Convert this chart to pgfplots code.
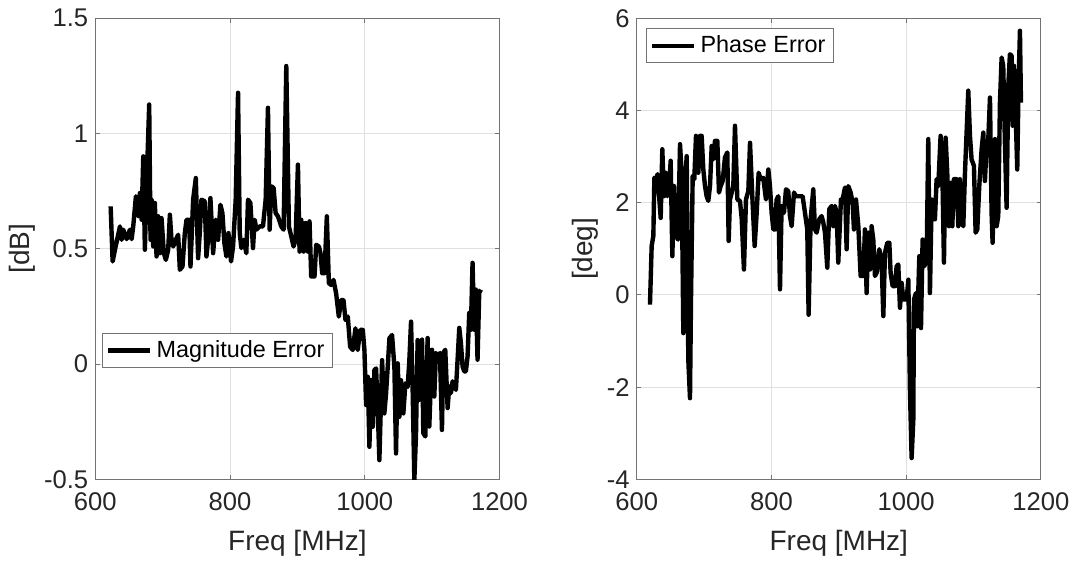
\documentclass[border=0pt]{standalone}
\usepackage{fontspec}
\setmainfont{Liberation Sans}
\usepackage{pgfplots}
\pgfplotsset{compat=1.18}
\usepackage{pgfplotstable}
\definecolor{axgray}{rgb}{0.45,0.45,0.45}
\definecolor{txt}{rgb}{0.15,0.15,0.15}
\definecolor{gridc}{rgb}{0.88,0.88,0.88}

\pgfplotstableread{
f v
622.8 0.684
625.7 0.445
629.2 0.496
636.6 0.597
639.1 0.539
641.5 0.583
646.5 0.542
651.4 0.583
653.9 0.542
656.3 0.597
660.3 0.728
663.8 0.641
666.2 0.742
668.7 0.626
671.2 0.901
673.6 0.496
676.1 0.771
680.0 1.126
682.0 0.539
683.5 0.713
686.0 0.510
688.4 0.699
690.9 0.467
693.4 0.641
695.9 0.481
698.3 0.633
701.8 0.481
704.7 0.452
708.2 0.496
710.7 0.648
713.1 0.539
715.6 0.510
719.5 0.539
723.0 0.561
725.5 0.409
729.4 0.423
732.9 0.568
735.4 0.626
739.3 0.626
741.3 0.423
745.2 0.713
749.2 0.807
752.6 0.459
755.1 0.568
757.6 0.713
762.5 0.706
765.0 0.467
767.4 0.539
770.9 0.720
774.9 0.481
778.8 0.626
782.3 0.539
785.7 0.691
788.7 0.655
791.6 0.525
794.6 0.467
797.6 0.568
801.5 0.445
804.5 0.510
808.4 0.713
811.9 1.177
814.4 0.568
816.8 0.503
820.3 0.539
824.2 0.481
826.7 0.713
830.2 0.699
834.1 0.503
836.6 0.626
839.1 0.583
844.0 0.597
848.9 0.597
852.9 0.713
856.3 1.112
858.8 0.583
861.3 0.771
864.7 0.764
867.7 0.655
871.1 0.641
876.1 0.597
879.5 0.583
883.5 1.293
887.4 0.597
890.9 0.554
894.3 0.510
897.3 0.539
900.8 0.865
903.2 0.488
905.7 0.626
909.2 0.488
912.1 0.612
915.6 0.488
918.0 0.619
920.5 0.380
925.4 0.380
927.9 0.517
931.9 0.510
934.3 0.481
936.8 0.394
940.3 0.394
943.7 0.641
946.7 0.351
950.1 0.343
953.6 0.365
957.5 0.307
961.5 0.206
965.0 0.278
968.4 0.278
971.4 0.191
974.8 0.206
978.3 0.075
982.2 0.061
986.2 0.155
989.6 0.061
993.1 0.148
997.1 0.148
999.5 0.061
1002.0 -0.178
1004.5 -0.055
1006.9 -0.359
1009.4 -0.070
1011.9 -0.272
1014.3 -0.026
1016.8 -0.019
1019.3 -0.200
1021.7 -0.417
1025.7 0.017
1029.1 -0.214
1031.6 -0.128
1034.1 -0.012
1036.6 0.112
1040.5 0.126
1044.0 -0.012
1046.4 -0.388
1048.9 0.003
1051.4 -0.229
1053.8 -0.070
1057.3 -0.214
1060.3 -0.084
1063.7 -0.099
1066.2 0.017
1068.7 0.184
1071.1 -0.113
1073.6 -0.504
1076.1 -0.301
1078.5 0.104
1081.0 -0.155
1085.0 0.106
1086.9 -0.300
1089.9 -0.314
1093.3 0.113
1095.8 -0.271
1099.8 0.062
1103.2 -0.141
1105.7 0.048
1108.2 0.033
1111.6 0.048
1114.6 -0.286
1116.6 0.048
1119.5 0.062
1123.0 -0.191
1125.4 -0.097
1127.9 -0.126
1130.4 -0.075
1135.3 -0.112
1137.8 0.019
1140.3 0.157
1142.7 0.091
1145.2 -0.010
1147.7 -0.032
1150.1 -0.032
1152.6 0.033
1155.1 0.222
1157.5 0.149
1160.0 0.439
1162.5 0.149
1164.9 0.323
1167.4 0.019
1169.9 0.309
1172.4 0.323
}\magtable

\pgfplotstableread{
f v
619.7 -0.21
622.2 1.06
624.7 1.28
626.2 2.54
628.6 2.51
631.1 2.62
633.6 2.07
635.6 1.67
638.0 3.16
640.5 2.14
643.0 2.65
645.5 2.14
647.9 2.29
650.4 2.91
652.9 0.84
655.4 2.36
658.3 1.28
661.3 1.20
664.3 3.27
666.7 2.65
669.2 -0.83
671.7 2.36
674.2 3.01
676.6 -1.41
679.1 -2.24
680.6 -0.10
683.1 2.58
685.5 2.51
688.0 3.45
691.5 2.65
694.0 3.45
696.4 3.45
698.9 2.72
701.4 2.36
703.8 2.14
706.3 2.04
708.8 2.36
711.3 3.23
713.7 2.94
716.2 3.34
719.7 3.34
722.1 2.22
724.6 2.36
727.6 2.47
731.0 2.98
734.5 3.09
736.5 1.17
738.5 2.07
743.4 2.36
745.9 3.67
749.4 2.07
753.3 2.04
755.8 1.67
759.2 0.55
762.2 2.07
765.7 2.25
768.2 3.30
771.6 2.14
775.1 1.06
778.1 1.78
781.0 2.65
784.0 2.51
787.9 2.54
791.9 2.07
795.4 2.72
797.8 2.36
800.3 1.78
802.8 1.42
805.3 1.42
807.7 2.07
810.2 2.14
812.7 0.12
815.1 1.93
818.6 1.78
821.6 2.29
825.0 2.25
827.5 1.71
830.0 1.49
833.5 2.22
836.4 2.14
839.9 2.14
842.4 2.14
846.3 2.14
849.8 1.78
853.2 1.42
855.2 -0.43
858.2 1.64
862.1 2.29
864.6 1.42
867.1 1.35
871.0 1.64
874.5 1.71
877.0 1.57
879.5 1.35
882.9 0.59
885.9 1.86
889.4 1.93
891.8 1.49
894.3 1.93
896.8 1.78
899.2 0.70
903.2 2.07
905.7 2.07
909.2 2.33
911.6 0.99
914.1 2.36
917.6 2.22
920.5 2.00
922.5 1.42
925.5 2.07
929.0 1.49
932.4 0.41
936.4 0.41
938.8 1.42
941.3 0.04
943.8 1.35
946.3 0.55
948.7 1.49
951.2 1.20
953.7 0.41
956.2 0.48
960.1 0.99
963.6 0.70
966.1 -0.46
968.5 0.91
972.0 1.13
975.0 1.13
976.9 0.48
979.9 0.19
983.4 0.19
985.8 0.62
988.3 0.66
990.8 -0.28
993.3 0.26
995.7 -0.10
998.2 -0.10
1000.7 -0.10
1003.2 0.33
1005.6 -2.06
1008.1 -3.54
1010.6 -2.71
1011.6 -0.10
1014.5 0.04
1016.5 -0.68
1019.5 0.84
1022.0 -0.72
1024.4 1.20
1026.9 0.62
1030.4 0.77
1032.8 3.38
1035.3 0.04
1037.8 2.07
1040.3 1.64
1042.7 1.64
1045.2 2.51
1047.7 2.36
1051.1 3.45
1054.1 2.36
1056.1 0.70
1058.6 3.41
1061.0 2.65
1063.5 1.49
1066.0 2.43
1068.5 1.49
1070.9 2.51
1074.9 2.51
1077.4 1.49
1079.8 2.51
1082.3 1.57
1084.8 1.49
1087.3 2.65
1089.7 3.52
1092.2 4.43
1094.7 3.45
1097.1 2.94
1100.6 2.80
1103.1 1.35
1105.6 1.42
1108.5 2.36
1112.0 3.16
1114.5 3.52
1116.9 2.47
1119.4 3.23
1121.9 3.38
1124.4 4.28
1126.8 1.78
1128.3 1.13
1131.8 3.38
1134.3 1.49
1136.7 1.71
1139.2 4.17
1141.7 5.15
1144.1 4.97
1146.6 3.30
1149.1 1.89
1151.6 4.54
1154.0 5.22
1156.5 5.19
1158.0 3.67
1160.0 4.97
1162.9 3.74
1164.9 2.72
1166.9 4.61
1168.9 5.73
1170.4 4.17
}\phasetable

\pgfplotsset{
  myax/.style={
    scale only axis,
    width=202.1pt, height=230.5pt,
    anchor=south west,
    xmin=600, xmax=1200,
    xtick={600,800,1000,1200},
    xticklabels={600,800,1000,1200},
    axis line style={axgray, line width=0.5pt},
    tick style={axgray, line width=0.5pt},
    major tick length=2.2pt,
    tick align=inside,
    tick pos=both,
    grid=major,
    major grid style={gridc, line width=0.5pt},
    ticklabel style={font=\fontsize{12.8}{15}\selectfont, text=txt},
    xticklabel style={yshift=-3.3pt},
    label style={font=\fontsize{14}{17}\selectfont, text=txt},
    xlabel style={yshift=-2.5pt},
    ylabel shift=-2.5pt,
    xlabel={Freq [MHz]},
    legend cell align=left,
    legend style={draw=axgray, line width=0.5pt, font=\fontsize{11.7}{14}\selectfont, text=black,
      inner xsep=2pt, inner ysep=1.5pt},
    legend image code/.code={\draw[#1, line width=2.2pt] (0pt,0pt) -- (21pt,0pt);},
  }
}

\begin{document}
\begin{tikzpicture}
\useasboundingbox (0,0) rectangle (538pt,281pt);
\begin{axis}[myax,
  at={(47.65pt,41.35pt)},
  ymin=-0.5, ymax=1.5,
  ytick={-0.5,0,0.5,1,1.5},
  yticklabels={-0.5,0,0.5,1,1.5},
  ylabel={[dB]},
  legend style={at={(0.0158,0.2414)}, anchor=south west},
]
\addplot[black, line width=2.2pt, line join=round] table[x=f, y=v] {\magtable};
\addlegendentry{Magnitude Error}
\end{axis}
\begin{axis}[myax,
  at={(318.35pt,41.35pt)},
  ymin=-4, ymax=6,
  ytick={-4,-2,0,2,4,6},
  yticklabels={-4,-2,0,2,4,6},
  ylabel={[deg]},
  legend style={at={(0.0223,0.978)}, anchor=north west},
]
\addplot[black, line width=2.2pt, line join=round] table[x=f, y=v] {\phasetable};
\addlegendentry{Phase Error}
\end{axis}
\end{tikzpicture}
\end{document}
